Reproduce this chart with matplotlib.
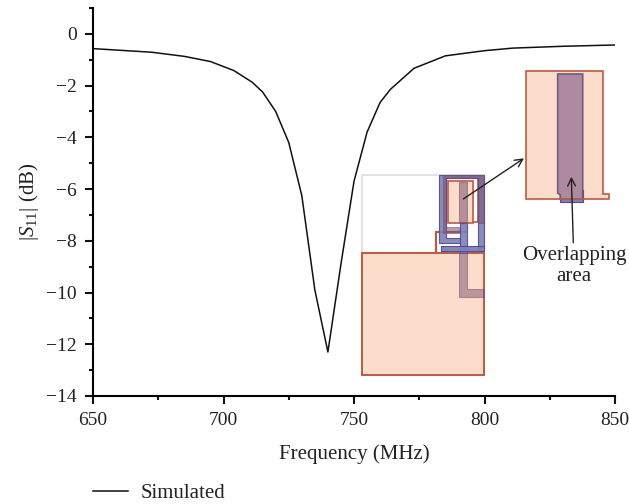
import matplotlib
matplotlib.use("Agg")
import matplotlib.pyplot as plt
from matplotlib.patches import Polygon
from matplotlib.ticker import MultipleLocator

plt.rcParams["font.family"] = ["Liberation Serif", "DejaVu Sans"]
plt.rcParams["mathtext.fontset"] = "custom"
plt.rcParams["mathtext.rm"] = "Liberation Serif"
plt.rcParams["mathtext.it"] = "Liberation Serif:italic"

freq = [650, 672.5, 685, 695, 704, 711, 715, 720, 725, 730, 735, 740,
        745, 750, 755, 760, 764, 773, 785, 800, 811, 830, 850]
s11 = [-0.57, -0.71, -0.87, -1.07, -1.42, -1.87, -2.25, -3.0, -4.2, -6.25, -9.9, -12.3,
       -8.9, -5.7, -3.8, -2.65, -2.14, -1.33, -0.85, -0.65, -0.55, -0.48, -0.43]

# schema da antena, em pixels da imagem
outline = [(361.7, 175.3), (484.3, 175.3), (484.3, 252.7), (361.7, 252.7)]
patch_big = [(361.7, 252.7), (484.3, 252.7), (484.3, 375.3), (361.7, 375.3)]
patch_step = [(436, 252.7), (436, 231.7), (467, 231.7)]
patch_small = [(447.7, 181), (473.3, 181), (473.3, 223.3), (447.7, 223.3)]
patch_ring = [(446, 225), (446, 178.3), (477.7, 178.3), (477.7, 221.7), (473.3, 221.7)]
blue_c = [(439.3, 175.3), (484.3, 175.3), (484.3, 250), (478.3, 250), (478.3, 178.3),
          (445.7, 178.3), (445.7, 238.3), (460, 238.3), (460, 242.7), (439.3, 242.7)]
blue_stem = [(460, 223.3), (467.3, 223.3), (467.3, 253.3), (460, 253.3)]
blue_bar = [(441, 246), (484.3, 246), (484.3, 250.7), (441, 250.7)]
mauve_top = [(459.3, 182.3), (467.3, 182.3), (467.3, 223.3), (459.3, 223.3)]
mauve_l = [(459.3, 253.3), (467.3, 253.3), (467.3, 289.3), (484.3, 289.3),
           (484.3, 297.3), (459.3, 297.3)]
mauve_c = [(442.5, 175.3), (484.3, 175.3), (484.3, 223.3), (478.3, 223.3), (478.3, 178.3),
           (445.7, 178.3), (445.7, 226.7), (459.3, 226.7), (459.3, 232.7), (442.5, 232.7)]
zoom_patch = [(525.7, 70.7), (602.7, 70.7), (602.7, 194.3), (609.3, 194.3), (609.3, 199),
              (525.7, 199)]
zoom_blue = [(560.3, 190), (582.7, 190), (582.7, 202.3), (560.3, 202.3)]
zoom_mauve = [(557.7, 74), (582.7, 74), (582.7, 199), (560.3, 199), (560.3, 195), (557.7, 193)]

ORANGE = "#fcdcca"
ORANGE_EDGE = "#bf5a3f"
BLUE = "#7d80bb"
BLUE_EDGE = "#4a4c90"
MAUVE = "#7a4f70"

fig = plt.figure(figsize=(6.29, 5.04), dpi=100)
ax = fig.add_axes([93 / 629, 1 - 396 / 504, (615 - 93) / 629, (396 - 8) / 504])

ax.plot(freq, s11, color="#111111", linewidth=1.1, label="Simulated")
ax.set_xlim(650, 850)
ax.set_ylim(-14, 1)
ax.xaxis.set_major_locator(MultipleLocator(50))
ax.xaxis.set_minor_locator(MultipleLocator(25))
ax.yaxis.set_major_locator(MultipleLocator(2))
ax.yaxis.set_minor_locator(MultipleLocator(1))
ax.yaxis.set_major_formatter(lambda v, pos: f"{v:.0f}".replace("-", "\u2212"))
ax.tick_params(which="major", length=5.5, width=1.5, labelsize=14, pad=6, color="#111111", labelcolor="#222222")
ax.tick_params(which="minor", length=3, width=1.5, color="#111111")
ax.spines["top"].set_visible(False)
ax.spines["right"].set_visible(False)
ax.spines["left"].set_linewidth(1.5)
ax.spines["bottom"].set_linewidth(1.5)
ax.set_xlabel("Frequency (MHz)", fontsize=15, labelpad=11, color="#222222")
ax.set_ylabel("|$S_{11}$| (dB)", fontsize=15, labelpad=4, color="#222222")
fig.legend(loc="lower left", bbox_to_anchor=(93 / 629, 0.001), frameon=False, fontsize=15,
           borderpad=0, borderaxespad=0, handlelength=1.68, handletextpad=0.62, labelcolor="#222222")

# camada em pixels por cima dos eixos
over = fig.add_axes([0, 0, 1, 1])
over.set_xlim(0, 629)
over.set_ylim(504, 0)
over.axis("off")


def forma(pontos, fc, ec, lw=1.2, alpha=None, closed=True):
    over.add_patch(Polygon(pontos, closed=closed, fc=fc, ec=ec, lw=lw, alpha=alpha))


forma(outline, "white", "#dddddd", lw=1.2)
forma(patch_big, ORANGE, ORANGE_EDGE, lw=1.4)
forma(patch_step, "none", ORANGE_EDGE, lw=1.6, closed=False)
forma(patch_small, ORANGE, ORANGE_EDGE, lw=1.2)
forma(patch_ring, "none", ORANGE_EDGE, lw=1.2, closed=False)
forma(blue_c, BLUE, BLUE_EDGE, lw=0.8, alpha=0.9)
forma(blue_stem, BLUE, BLUE_EDGE, lw=0.8, alpha=0.9)
forma(blue_bar, BLUE, BLUE_EDGE, lw=0.8, alpha=0.95)
forma(mauve_top, MAUVE, MAUVE, lw=0.8, alpha=0.55)
forma(mauve_l, MAUVE, MAUVE, lw=0.8, alpha=0.5)
forma(mauve_c, MAUVE, MAUVE, lw=0.8, alpha=0.55)

forma(zoom_patch, ORANGE, ORANGE_EDGE, lw=1.2)
forma(zoom_blue, BLUE, BLUE_EDGE, lw=0.8)
forma(zoom_mauve, "#ae8aa0", "#6f5a80", lw=1.2)
over.plot([560.3, 582.7], [199, 199], color=ORANGE_EDGE, lw=1.2)

seta = dict(arrowstyle="->", color="#222222", lw=1.0, mutation_scale=14, shrinkA=0, shrinkB=0)
over.annotate("", xy=(524, 158.3), xytext=(463.3, 199), arrowprops=seta)
over.annotate("", xy=(571.3, 176.7), xytext=(573.3, 242.7), arrowprops=seta)
over.text(574, 266, "Overlapping\narea", ha="center", va="center", fontsize=15,
          color="#222222", linespacing=1.1)

fig.savefig("out.png", dpi=100)
